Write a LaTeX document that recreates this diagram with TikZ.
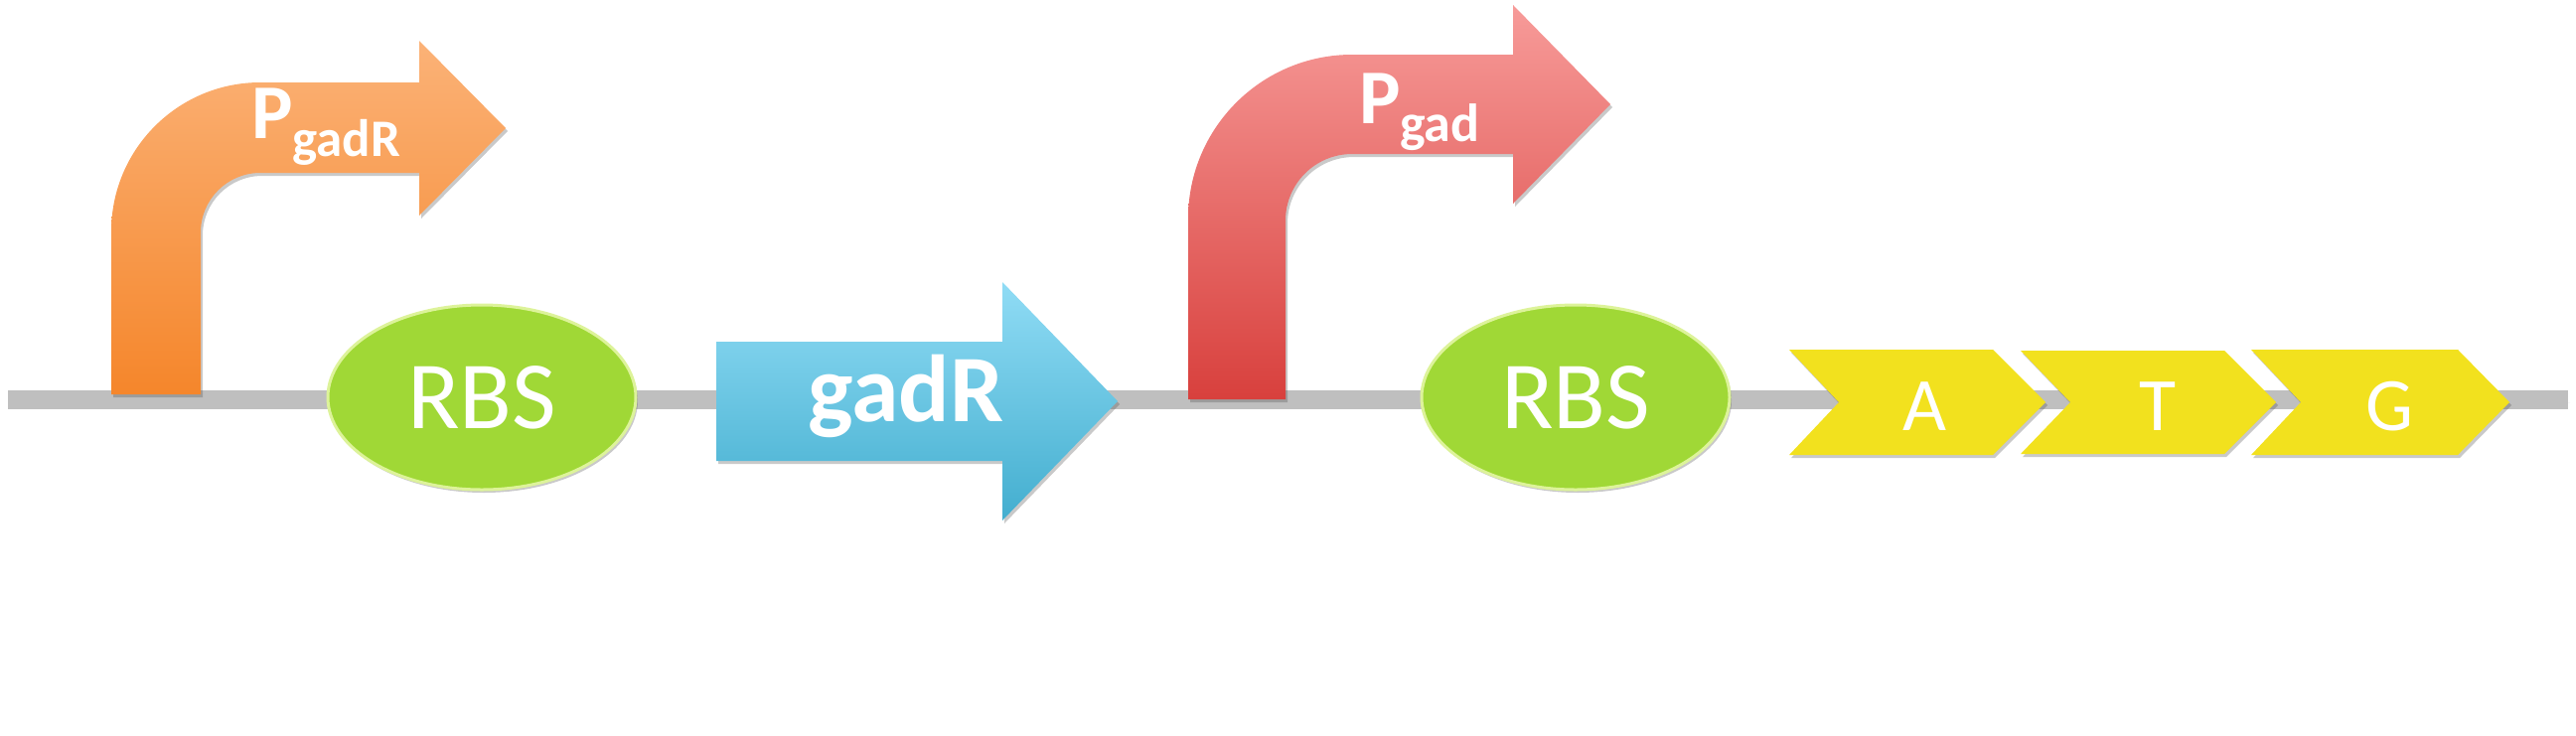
\documentclass[tikz,border=0pt]{standalone}
\usepackage{fontspec}
\setmainfont{Carlito}
\usetikzlibrary{shapes.geometric,shadows}
\definecolor{orgT}{HTML}{FBB277}
\definecolor{orgB}{HTML}{F5862B}
\definecolor{redT}{HTML}{F79B99}
\definecolor{redB}{HTML}{D8403D}
\definecolor{bluT}{HTML}{90DCF5}
\definecolor{bluB}{HTML}{43AECF}
\definecolor{rbsgreen}{HTML}{A0D836}
\definecolor{rbsrim}{HTML}{DDF39A}
\definecolor{codonyellow}{HTML}{F2E11E}
\definecolor{backbonegray}{HTML}{BFBFBF}
\begin{document}
\begin{tikzpicture}[x=1pt,y=-1pt,
  shadowed/.style={drop shadow={shadow xshift=2pt,shadow yshift=-3pt,opacity=.3,fill=black!70}},
  rbsnode/.style={ellipse,shadowed,fill=rbsgreen,draw=rbsrim,line width=3pt,minimum width=310pt,minimum height=186pt,inner sep=0pt,text=white,font=\fontsize{97}{100}\selectfont},
  codon/.style={fill=codonyellow,shadowed},
  codonlabel/.style={text=white,font=\fontsize{76}{80}\selectfont},
  lbl/.style={text=white,inner sep=0pt}]
\useasboundingbox (0,0) rectangle (2593,740);
% backbone
\coordinate (bbL) at (8,402);
\coordinate (bbR) at (2585,402);
\draw[backbonegray,line width=19pt,shadowed] (bbL) -- (bbR);
% orange promoter PgadR
\shade[shadowed,top color=orgT,bottom color=orgB]
  (112,397) -- (112,233) arc[start angle=180,end angle=270,radius=150]
  -- (422,83) -- (422,41) -- (509,129) -- (422,217) -- (422,174) -- (262,174)
  arc[start angle=270,end angle=180,radius=60] -- (202,397) -- cycle;
\node[lbl,anchor=base west,font=\bfseries\fontsize{78}{80}\selectfont] (pgadrP) at (253,139) {P};
\node[lbl,anchor=base west,font=\bfseries\fontsize{53}{56}\selectfont] (pgadrS) at (294,157) {gadR};
% RBS 1
\node[rbsnode] (rbs1) at (485,400) {RBS};
% gadR gene
\shade[shadowed,top color=bluT,bottom color=bluB]
  (721,344) -- (1009,344) -- (1009,284) -- (1125,404) -- (1009,524) -- (1009,464) -- (721,464) -- cycle;
\node[lbl,font=\bfseries\fontsize{96}{100}\selectfont] (gadr) at (912,399) {gadR};
% red promoter Pgad
\shade[shadowed,top color=redT,bottom color=redB]
  (1196,402) -- (1196,220) arc[start angle=180,end angle=270,radius=165]
  -- (1523,55) -- (1523,5) -- (1621,105) -- (1523,205) -- (1523,155) -- (1361,155)
  arc[start angle=270,end angle=180,radius=67] -- (1294,402) -- cycle;
\node[lbl,anchor=base west,font=\bfseries\fontsize{78}{80}\selectfont] (pgadP) at (1368,124) {P};
\node[lbl,anchor=base west,font=\bfseries\fontsize{54}{56}\selectfont] (pgadS) at (1409,142) {gad};
% RBS 2
\node[rbsnode] (rbs2) at (1586,400) {RBS};
% codons
\fill[codon] (1801,352) -- (2006,352) -- (2059,405) -- (2006,458) -- (1801,458) -- (1851,405) -- cycle;
\fill[codon] (2034,353) -- (2239,353) -- (2291,405) -- (2239,457) -- (2034,457) -- (2084,405) -- cycle;
\fill[codon] (2266,352) -- (2474,352) -- (2526,405) -- (2474,458) -- (2266,458) -- (2316,405) -- cycle;
\node[codonlabel] (cA) at (1937,409) {A};
\node[codonlabel] (cT) at (2172,409) {T};
\node[codonlabel] (cG) at (2405,409) {G};
\end{tikzpicture}
\end{document}
